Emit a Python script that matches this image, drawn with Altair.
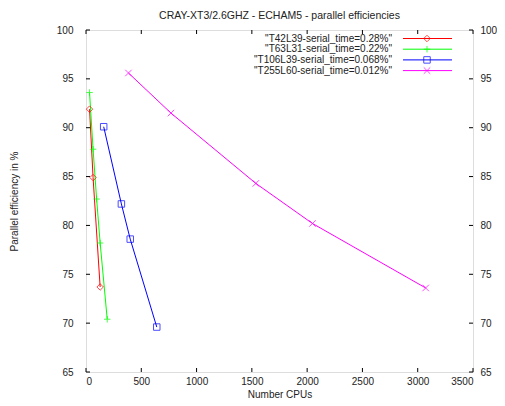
import altair as alt
import pandas as pd

# ---- data ----
series_names = [
    '"T42L39-serial_time=0.28%"',
    '"T63L31-serial_time=0.22%"',
    '"T106L39-serial_time=0.068%"',
    '"T255L60-serial_time=0.012%"',
]
t42_cpus = [32, 64, 128]
t42_eff = [91.9, 84.9, 73.7]
t63_cpus = [32, 64, 96, 128, 192]
t63_eff = [93.6, 87.8, 82.7, 78.2, 70.4]
t106_cpus = [160, 320, 400, 640]
t106_eff = [90.1, 82.2, 78.6, 69.6]
t255_cpus = [384, 768, 1536, 2048, 3072]
t255_eff = [95.6, 91.5, 84.3, 80.2, 73.6]

colors = ["#ff0000", "#00ff00", "#0000ff", "#ff00ff"]
shapes = [
    "diamond",
    "M-1,0H1M0,-1V1",
    "square",
    "M-1,-1L1,1M-1,1L1,-1",
]
x_ticks = [0, 500, 1000, 1500, 2000, 2500, 3000, 3500]
y_ticks = [65, 70, 75, 80, 85, 90, 95, 100]

rows = []
for name, xs, ys in zip(series_names,
                        [t42_cpus, t63_cpus, t106_cpus, t255_cpus],
                        [t42_eff, t63_eff, t106_eff, t255_eff]):
    for i, (a, b) in enumerate(zip(xs, ys)):
        rows.append({"series": name, "cpus": a, "eff": b, "order": i})
df = pd.DataFrame(rows)

W, H = 387, 342
FONT = "Liberation Sans"
TXT = "#222222"

xscale = alt.Scale(domain=[0, 3500], nice=False, zero=False)
yscale = alt.Scale(domain=[65, 100], nice=False, zero=False)
cscale = alt.Scale(domain=series_names, range=colors)
sscale = alt.Scale(domain=series_names, range=shapes)

base = alt.Chart(df)

lines = base.mark_line(strokeWidth=1, clip=True).encode(
    x=alt.X("cpus:Q", scale=xscale,
            axis=alt.Axis(values=x_ticks, format="d", title="Number CPUs",
                          grid=False, ticks=False, domain=False,
                          labelPadding=4, titlePadding=3, labelFontSize=10,
                          titleFontSize=10, labelFont=FONT, titleFont=FONT,
                          labelColor=TXT, titleColor=TXT,
                          titleFontWeight="normal")),
    y=alt.Y("eff:Q", scale=yscale,
            axis=alt.Axis(values=y_ticks, title="Parallel efficiency in %",
                          grid=False, ticks=False, domain=False,
                          labelPadding=13, titlePadding=37, labelFontSize=10,
                          titleFontSize=10, labelFont=FONT, titleFont=FONT,
                          labelColor=TXT, titleColor=TXT,
                          titleFontWeight="normal")),
    color=alt.Color("series:N", scale=cscale, legend=None),
    detail="series:N",
    order="order:Q",
)

points = base.mark_point(strokeWidth=1, filled=False, size=42).encode(
    x=alt.X("cpus:Q", scale=xscale),
    y=alt.Y("eff:Q", scale=yscale, axis=None),
    color=alt.Color("series:N", scale=cscale, legend=None),
    shape=alt.Shape("series:N", scale=sscale, legend=None),
)

xt = pd.DataFrame({"v": x_ticks})
yt = pd.DataFrame({"v": y_ticks})

xt_bottom = alt.Chart(xt).mark_rule(color="black", strokeWidth=1).encode(
    x=alt.X("v:Q", scale=xscale), y=alt.value(H), y2=alt.value(H - 4))
xt_top = alt.Chart(xt).mark_rule(color="black", strokeWidth=1).encode(
    x=alt.X("v:Q", scale=xscale), y=alt.value(0), y2=alt.value(4))
yt_left = alt.Chart(yt).mark_rule(color="black", strokeWidth=1).encode(
    y=alt.Y("v:Q", scale=yscale, axis=None), x=alt.value(0), x2=alt.value(4))
yt_right = alt.Chart(yt).mark_rule(color="black", strokeWidth=1).encode(
    y=alt.Y("v:Q", scale=yscale,
            axis=alt.Axis(orient="right", values=y_ticks, title=None,
                          grid=False, ticks=False, domain=False,
                          labelPadding=7, labelFontSize=10, labelFont=FONT,
                          labelColor=TXT)),
    x=alt.value(W), x2=alt.value(W - 4))

# legend (gnuplot style: text, then line sample with marker)
legend_layers = []
row_y = [8.5, 19.2, 29.9, 40.6]
for name, col, shp, ry in zip(series_names, colors, shapes, row_y):
    ldf = pd.DataFrame({"label": [name]})
    legend_layers.append(
        alt.Chart(ldf).mark_text(align="right", baseline="middle",
                                 font=FONT, fontSize=10, color=TXT).encode(
            text="label:N", x=alt.value(306), y=alt.value(ry)))
    legend_layers.append(
        alt.Chart(ldf).mark_rule(color=col, strokeWidth=1).encode(
            x=alt.value(317), x2=alt.value(366), y=alt.value(ry)))
    legend_layers.append(
        alt.Chart(ldf).mark_point(color=col, shape=shp, size=42,
                                  filled=False, strokeWidth=1).encode(
            x=alt.value(341), y=alt.value(ry)))

chart = alt.layer(
    lines, points, xt_bottom, xt_top, yt_left, yt_right, *legend_layers
).resolve_axis(y="independent").properties(
    width=W, height=H,
    autosize=alt.AutoSizeParams(type="none"),
    padding={"left": 78, "top": 22, "right": 24, "bottom": 26},
    title=alt.TitleParams("CRAY-XT3/2.6GHZ - ECHAM5 - parallel efficiencies",
                          font=FONT, fontSize=10.5, fontWeight="normal",
                          color=TXT, anchor="middle", offset=4),
).configure_view(stroke="black", strokeWidth=1).configure(background="white")

chart.save("out.html", embed_options={"renderer": "svg", "actions": False})
